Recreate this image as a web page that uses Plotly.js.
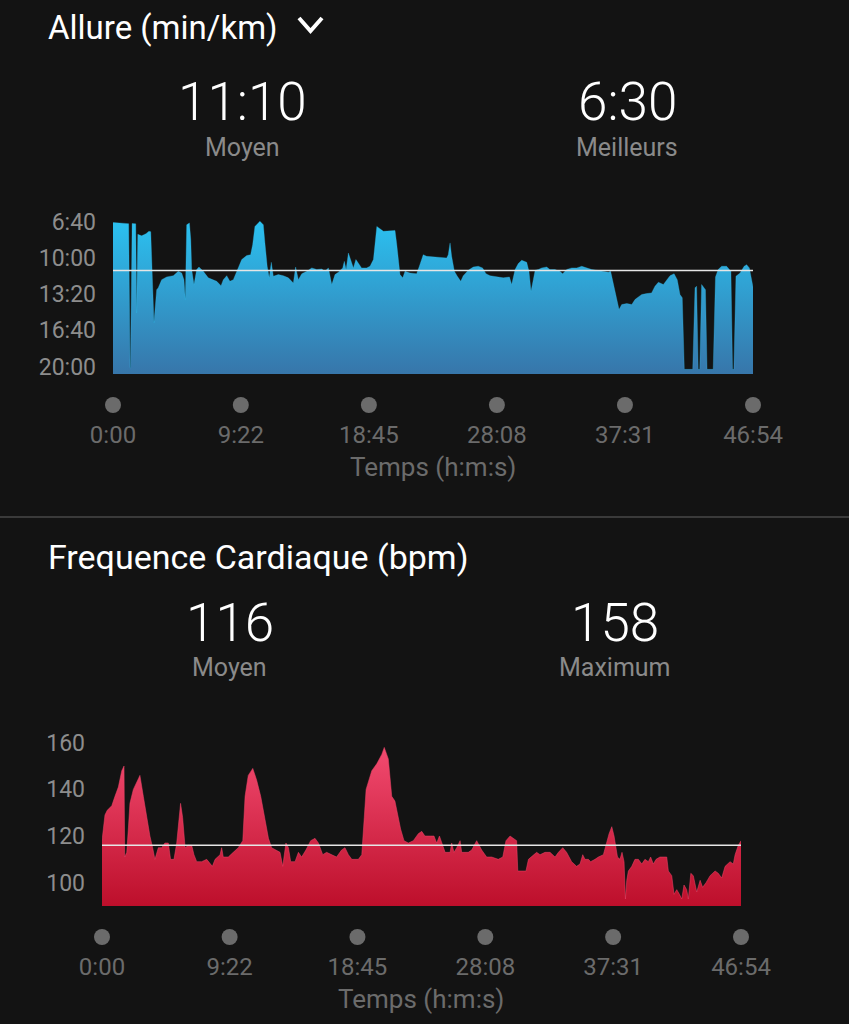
<!DOCTYPE html>
<html>
<head>
<meta charset="utf-8">
<script src="https://cdn.plot.ly/plotly-3.0.1.min.js"></script>
<style>
html,body{margin:0;padding:0;background:#131313;}
#chart{width:849px;height:1024px;}
</style>
</head>
<body>
<div id="chart"></div>
<script>
// ---------- shared time axis ----------
const timeTickVals = [0, 562, 1125, 1688, 2251, 2814];
const timeTickText = ['0:00', '9:22', '18:45', '28:08', '37:31', '46:54'];

// ---------- pace (seconds per km) ----------
const paceTickVals = [400, 600, 800, 1000, 1200];
const paceTickText = ['6:40', '10:00', '13:20', '16:40', '20:00'];
const paceAvg = 670;            // 11:10
const paceSummary = ['11:10', 'Moyen', '6:30', 'Meilleurs'];

const paceTime = [
  0, 69, 75, 77, 84, 100, 104, 109, 126,
  145, 158, 166, 180, 192, 199, 214, 236, 265, 287,
  302, 312, 318, 324, 336, 342, 346, 356, 368, 378,
  397, 419, 441, 456, 475, 485, 500, 514, 529, 544,
  566, 588, 605, 614, 624, 646, 661, 668, 678, 687,
  696, 705, 727, 749, 771, 793, 803, 815, 830, 852,
  874, 896, 918, 932, 947, 962, 976, 991, 1010, 1017,
  1025, 1035, 1050, 1057, 1068, 1079, 1093, 1115, 1130, 1145,
  1160, 1189, 1218, 1240, 1247, 1262, 1274, 1284, 1306, 1335,
  1347, 1364, 1379, 1408, 1437, 1467, 1474, 1482, 1489, 1501,
  1514, 1529, 1540, 1562, 1584, 1606, 1625, 1640, 1658, 1687,
  1716, 1743, 1753, 1768, 1782, 1797, 1819, 1829, 1838, 1848,
  1856, 1870, 1885, 1907, 1921, 1943, 1965, 1977, 1995, 2017,
  2039, 2061, 2083, 2105, 2127, 2156, 2178, 2188, 2200, 2215,
  2225, 2237, 2259, 2281, 2295, 2310, 2325, 2346, 2368, 2383,
  2398, 2420, 2435, 2449, 2467, 2481, 2493, 2503, 2512, 2549,
  2559, 2566, 2573, 2580, 2588, 2598, 2605, 2612, 2639, 2649,
  2661, 2676, 2698, 2710, 2717, 2724, 2730, 2739, 2757, 2775,
  2786, 2798, 2808, 2814
];
const paceSec = [
  404, 411, 1206, 1206, 410, 412, 903, 470, 478,
  466, 453, 455, 958, 775, 765, 720, 705, 698, 674,
  683, 720, 830, 417, 407, 499, 664, 747, 664, 650,
  674, 710, 720, 729, 753, 720, 698, 729, 720, 674,
  609, 587, 582, 527, 426, 398, 417, 517, 646, 710,
  624, 701, 692, 698, 710, 738, 650, 720, 687, 674,
  655, 664, 661, 674, 655, 747, 692, 679, 655, 619,
  664, 573, 628, 655, 609, 628, 655, 655, 646, 609,
  426, 453, 448, 448, 517, 692, 710, 674, 683, 687,
  646, 582, 591, 595, 600, 600, 582, 517, 591, 674,
  701, 729, 698, 668, 650, 646, 655, 687, 698, 705,
  710, 705, 747, 664, 631, 613, 624, 674, 784, 720,
  668, 664, 655, 650, 664, 664, 674, 687, 664, 655,
  655, 646, 655, 664, 668, 674, 679, 674, 738, 830,
  885, 857, 852, 857, 830, 815, 802, 797, 793, 756,
  734, 747, 720, 698, 687, 720, 802, 820, 1215, 1215,
  765, 756, 1215, 1215, 747, 765, 775, 1215, 1215, 705,
  664, 646, 646, 664, 674, 1215, 1215, 701, 683, 646,
  637, 655, 720, 760
];

// ---------- heart rate (bpm) ----------
const hrTickVals = [100, 120, 140, 160];
const hrAvg = 116;
const hrSummary = ['116', 'Moyen', '158', 'Maximum'];

const hrTime = [
  0, 6, 13, 23, 43, 57, 72, 87, 97, 100,
  109, 116, 123, 138, 153, 167, 182, 197, 211, 223,
  233, 248, 263, 277, 292, 302, 317, 329, 339, 346,
  355, 366, 380, 395, 405, 417, 439, 461, 486, 498,
  520, 527, 534, 556, 578, 600, 620, 630, 644, 664,
  681, 699, 718, 733, 747, 769, 784, 796, 810, 821,
  831, 850, 865, 879, 898, 919, 938, 953, 972, 989,
  1011, 1033, 1055, 1070, 1085, 1100, 1129, 1144, 1155, 1163,
  1188, 1210, 1232, 1243, 1261, 1276, 1290, 1305, 1315, 1330,
  1349, 1371, 1393, 1408, 1422, 1445, 1462, 1474, 1486, 1511,
  1533, 1540, 1550, 1562, 1577, 1584, 1599, 1613, 1628, 1650,
  1672, 1694, 1716, 1745, 1765, 1779, 1797, 1812, 1826, 1831,
  1841, 1867, 1878, 1900, 1914, 1929, 1951, 1973, 1995, 2010,
  2029, 2046, 2068, 2090, 2105, 2117, 2127, 2142, 2152, 2171,
  2186, 2208, 2220, 2233, 2245, 2255, 2270, 2281, 2290, 2299,
  2305, 2311, 2318, 2333, 2347, 2362, 2377, 2391, 2406, 2416,
  2428, 2440, 2457, 2487, 2494, 2509, 2519, 2531, 2543, 2553,
  2563, 2575, 2582, 2593, 2604, 2619, 2634, 2645, 2660, 2678,
  2700, 2714, 2729, 2744, 2766, 2780, 2788, 2802, 2814
];
const hrBpm = [
  118, 123, 129, 131, 133, 137, 141, 148, 150, 111,
  113, 123, 134, 140, 143, 146, 137, 128, 120, 115,
  110, 115, 115, 117, 117, 110, 110, 117, 128, 134,
  128, 115, 116, 116, 112, 109, 109, 110, 107, 110,
  112, 115, 111, 111, 113, 115, 118, 137, 146, 149,
  144, 137, 127, 119, 115, 114, 113, 107, 117, 115,
  109, 109, 113, 111, 114, 118, 119, 117, 112, 113,
  112, 111, 114, 115, 112, 110, 110, 112, 128, 140,
  148, 151, 155, 158, 153, 137, 135, 128, 123, 118,
  117, 118, 121, 122, 120, 120, 120, 117, 120, 113,
  113, 117, 113, 115, 118, 113, 113, 113, 114, 118,
  114, 111, 111, 110, 111, 118, 120, 119, 118, 105,
  105, 105, 110, 112, 113, 112, 113, 113, 111, 113,
  115, 113, 109, 107, 108, 112, 110, 110, 109, 110,
  111, 112, 117, 121, 124, 120, 111, 110, 113, 109,
  93, 101, 105, 107, 110, 110, 108, 110, 109, 111,
  108, 110, 111, 111, 105, 103, 95, 97, 95, 93,
  99, 97, 93, 104, 103, 96, 101, 98, 100, 103,
  105, 104, 102, 107, 109, 108, 112, 116, 118
];

// ---------- page geometry helpers (pixels -> paper) ----------
const W = 849, H = 1024;
const px = v => v / W;
const py = v => 1 - v / H;

const PACE_RANGE = [1240, 330];
const HR_RANGE = [90, 167];
const TIME_RANGE = [0, 2814];

const FONT = 'Roboto, "Noto Sans", sans-serif';
const AXIS_GREY = '#6b6b6b';

const data = [
  { // baseline for the pace area (bottom of the inverted axis)
    x: TIME_RANGE, y: [PACE_RANGE[0], PACE_RANGE[0]],
    xaxis: 'x', yaxis: 'y', mode: 'lines', line: {width: 0, color: 'rgba(0,0,0,0)'},
    hoverinfo: 'skip'
  },
  {
    x: paceTime, y: paceSec, xaxis: 'x', yaxis: 'y',
    mode: 'lines', line: {color: '#2ec0ef', width: 0.3},
    fill: 'tonexty',
    fillgradient: {type: 'vertical', start: PACE_RANGE[0], stop: 400,
      colorscale: [[0, '#3776aa'], [1, '#2bc1f0']]},
    hoverinfo: 'skip'
  },
  {
    x: hrTime, y: hrBpm, xaxis: 'x2', yaxis: 'y2',
    mode: 'lines', line: {color: '#ef4468', width: 0.5},
    fill: 'tozeroy',
    fillgradient: {type: 'vertical', start: HR_RANGE[0], stop: 158,
      colorscale: [[0, '#bd0f2b'], [1, '#f24b70']]},
    hoverinfo: 'skip'
  },
  { // time markers (top chart)
    x: timeTickVals, y: timeTickVals.map(() => 0), xaxis: 'x', yaxis: 'y3',
    mode: 'markers', marker: {size: 16, color: AXIS_GREY}, cliponaxis: false, hoverinfo: 'skip'
  },
  { // time markers (bottom chart)
    x: timeTickVals, y: timeTickVals.map(() => 0), xaxis: 'x2', yaxis: 'y4',
    mode: 'markers', marker: {size: 16, color: AXIS_GREY}, cliponaxis: false, hoverinfo: 'skip'
  }
];

const xCommon = {
  range: TIME_RANGE, tickmode: 'array', tickvals: timeTickVals, ticktext: timeTickText,
  showgrid: false, zeroline: false, showline: false, ticks: '',
  ticklabelstandoff: 44, tickfont: {family: FONT, size: 24, color: AXIS_GREY}, fixedrange: true
};
const yCommon = {
  showgrid: false, zeroline: false, showline: false, ticks: '', tickmode: 'array',
  ticklabelstandoff: 16, tickfont: {family: FONT, size: 23, color: '#8d8d8d'}, fixedrange: true
};

function ann(text, x, y, size, color, opts) {
  return Object.assign({
    text: text, x: px(x), y: py(y), xref: 'paper', yref: 'paper',
    xanchor: 'center', yanchor: 'middle', showarrow: false,
    font: {family: FONT, size: size, color: color}
  }, opts || {});
}
const bigFont = {family: FONT, size: 53, color: '#ffffff', weight: 300};

const layout = {
  width: W, height: H,
  margin: {l: 0, r: 0, t: 0, b: 0},
  paper_bgcolor: '#131313', plot_bgcolor: '#131313',
  showlegend: false,
  font: {family: FONT},
  xaxis: Object.assign({}, xCommon, {domain: [px(113), px(753)], anchor: 'y'}),
  yaxis: Object.assign({}, yCommon, {domain: [py(373.9), py(209)], range: PACE_RANGE, anchor: 'x',
    tickvals: paceTickVals, ticktext: paceTickText}),
  xaxis2: Object.assign({}, xCommon, {domain: [px(102), px(741)], anchor: 'y2'}),
  yaxis2: Object.assign({}, yCommon, {domain: [py(906), py(726.4)], range: HR_RANGE, anchor: 'x2',
    tickvals: hrTickVals, ticktext: hrTickVals.map(String)}),
  yaxis3: {domain: [py(413), py(397)], range: [-1, 1], anchor: 'x', visible: false, fixedrange: true},
  yaxis4: {domain: [py(945), py(929)], range: [-1, 1], anchor: 'x2', visible: false, fixedrange: true},
  shapes: [
    {type: 'line', xref: 'x', yref: 'y', x0: TIME_RANGE[0], x1: TIME_RANGE[1], y0: paceAvg, y1: paceAvg,
     line: {color: '#e6e6e6', width: 1.5}},
    {type: 'line', xref: 'x2', yref: 'y2', x0: TIME_RANGE[0], x1: TIME_RANGE[1], y0: hrAvg, y1: hrAvg,
     line: {color: '#e6e6e6', width: 1.5}},
    {type: 'line', xref: 'paper', yref: 'paper', x0: 0, x1: 1, y0: py(517), y1: py(517),
     line: {color: '#3a3a3a', width: 2}},
    {type: 'path', xref: 'paper', yref: 'paper',
     path: 'M ' + px(299) + ' ' + py(18) + ' L ' + px(310.5) + ' ' + py(31) + ' L ' + px(322) + ' ' + py(18),
     line: {color: '#ffffff', width: 4}}
  ],
  annotations: [
    ann('Allure (min/km)', 46, 27, 33, '#ffffff', {xanchor: 'left'}),
    ann(paceSummary[0], 242, 102, 53, '#ffffff', {font: bigFont}),
    ann(paceSummary[1], 242, 147, 25, '#8a8a8a'),
    ann(paceSummary[2], 627, 102, 53, '#ffffff', {font: bigFont}),
    ann(paceSummary[3], 627, 147, 25, '#8a8a8a'),
    ann('Temps (h:m:s)', 433, 467, 26, AXIS_GREY),
    ann('Frequence Cardiaque (bpm)', 46, 557, 34, '#ffffff', {xanchor: 'left'}),
    ann(hrSummary[0], 230, 623, 53, '#ffffff', {font: bigFont}),
    ann(hrSummary[1], 230, 667, 25, '#8a8a8a'),
    ann(hrSummary[2], 615, 623, 53, '#ffffff', {font: bigFont}),
    ann(hrSummary[3], 615, 667, 25, '#8a8a8a'),
    ann('Temps (h:m:s)', 421, 999, 26, AXIS_GREY)
  ]
};

Plotly.newPlot('chart', data, layout, {staticPlot: true, displayModeBar: false});
</script>
</body>
</html>
